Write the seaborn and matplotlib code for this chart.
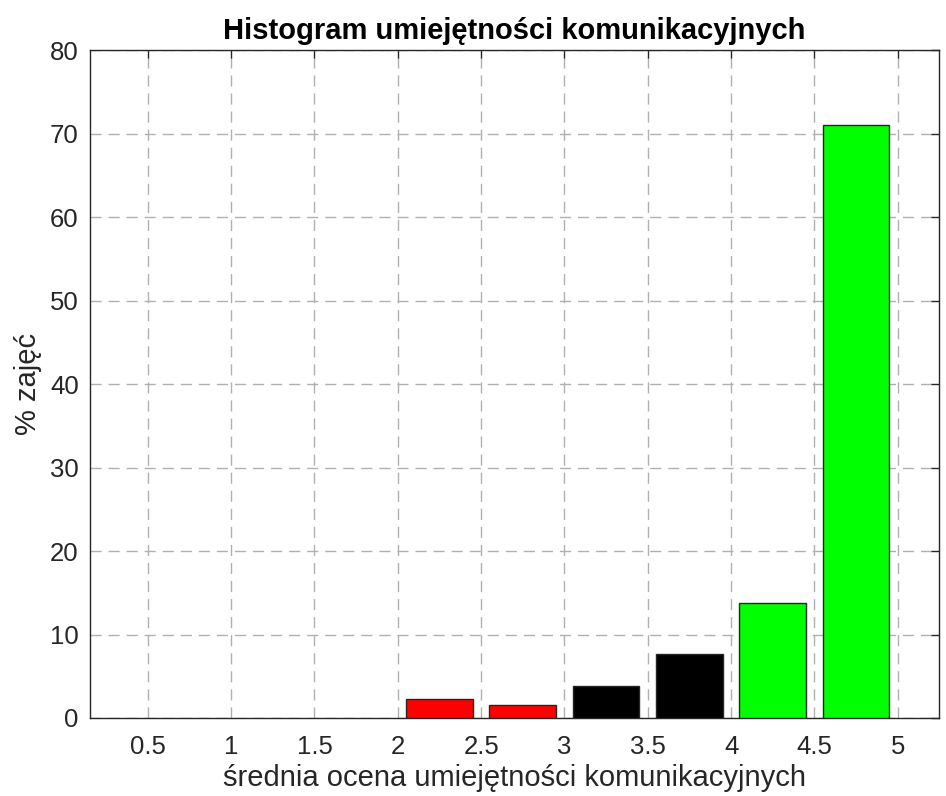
import matplotlib
matplotlib.use("Agg")
import matplotlib.pyplot as plt
import seaborn as sns
import pandas as pd

# bin centres and share of classes (%)
bin_centres = [2.25, 2.75, 3.25, 3.75, 4.25, 4.75]
percent = [2.3, 1.6, 3.8, 7.7, 13.8, 71.0]
bar_colors = ["#ff0000", "#ff0000", "#000000", "#000000", "#00ff00", "#00ff00"]
xticks = [0.5, 1, 1.5, 2, 2.5, 3, 3.5, 4, 4.5, 5]
xtick_labels = ["0.5", "1", "1.5", "2", "2.5", "3", "3.5", "4", "4.5", "5"]
yticks = [0, 10, 20, 30, 40, 50, 60, 70, 80]

sns.set_style("white")
plt.rcParams["font.family"] = ["Liberation Sans", "DejaVu Sans"]

df = pd.DataFrame({"x": bin_centres, "pct": percent, "grp": [str(c) for c in bin_centres]})

fig = plt.figure(figsize=(9.46, 7.96), dpi=100)
ax = fig.add_axes([0.095, 0.098, 0.898, 0.839])
sns.barplot(data=df, x="x", y="pct", hue="grp", palette=bar_colors, native_scale=True,
            width=0.8, dodge=False, legend=False, edgecolor="#262626", linewidth=1,
            saturation=1, ax=ax, zorder=3)

ax.set_xlim(0.152, 5.25)
ax.set_ylim(0, 80)
ax.set_xticks(xticks)
ax.set_xticklabels(xtick_labels)
ax.set_yticks(yticks)
ax.grid(True, linestyle=(0, (8, 5)), color="#b0b0b0", linewidth=1, zorder=0)
ax.set_axisbelow(True)
for s in ax.spines.values():
    s.set_color("#262626")
    s.set_linewidth(1)
ax.tick_params(direction="in", length=6, width=1, color="#262626", top=True, right=True,
               labelsize=18.5, labelcolor="#262626")
ax.tick_params(axis="x", pad=12)
ax.tick_params(axis="y", pad=8)

ax.set_title("Histogram umiejętności komunikacyjnych", fontsize=21, fontweight="bold",
             color="#000000", pad=8)
ax.set_xlabel("średnia ocena umiejętności komunikacyjnych", fontsize=21, color="#262626", labelpad=4)
ax.set_ylabel("% zajęć", fontsize=21, color="#262626", labelpad=6)

fig.savefig("out.png", dpi=100)
